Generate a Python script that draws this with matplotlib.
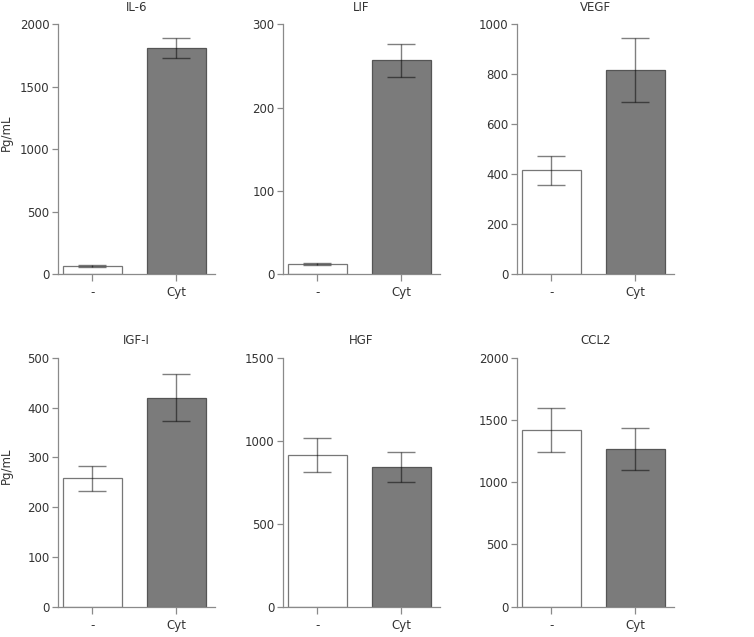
import numpy as np
import matplotlib
matplotlib.use('Agg')
import matplotlib.pyplot as plt

# values (pg/mL, mean and error)
cytokines = ['IL-6', 'LIF', 'VEGF', 'IGF-I', 'HGF', 'CCL2']
groups = ['-', 'Cyt']
ctrl_mean = [65, 12, 415, 258, 915, 1420]
ctrl_err = [5, 1, 58, 25, 105, 175]
cyt_mean = [1810, 257, 818, 420, 842, 1268]
cyt_err = [82, 20, 128, 47, 92, 170]
y_max = [2000, 300, 1000, 500, 1500, 2000]
y_step = [500, 100, 200, 100, 500, 500]

plt.rcParams['font.family'] = ['DejaVu Sans']
plt.rcParams['font.size'] = 8

fig = plt.figure(figsize=(7.54, 6.37), dpi=100)

col_left = [58, 283, 517]
row_box = [(24.5, 274), (358, 606.5)]
W, H = 754, 637

spine_col = '#8a8a8a'
text_col = '#333333'

for i, name in enumerate(cytokines):
    r, c = divmod(i, 3)
    top, bot = row_box[r]
    ax = fig.add_axes([col_left[c] / W, 1 - bot / H, 157 / W, (bot - top) / H])

    x = np.arange(len(groups))
    means = [ctrl_mean[i], cyt_mean[i]]
    errs = [ctrl_err[i], cyt_err[i]]
    ax.bar(x, means, width=0.7, color=['white', '#7b7b7b'],
           edgecolor=['#777777', '#555555'], linewidth=0.9, zorder=2)
    ax.errorbar(x, means, yerr=errs, fmt='none', ecolor=(0, 0, 0, 0.5),
                elinewidth=1, capsize=10, capthick=1, zorder=3)

    ax.set_xlim(-0.41, 1.46)
    ax.set_ylim(0, y_max[i])
    ax.set_yticks(np.arange(0, y_max[i] + 1, y_step[i]))
    ax.set_xticks(x)
    ax.set_xticklabels(groups)

    for s in ['top', 'right']:
        ax.spines[s].set_visible(False)
    for s in ['left', 'bottom']:
        ax.spines[s].set_color(spine_col)
        ax.spines[s].set_linewidth(0.9)
    ax.tick_params(axis='y', direction='out', length=4, width=0.9,
                   color=spine_col, labelcolor=text_col, labelsize=8.5, pad=2)
    ax.tick_params(axis='x', direction='out', length=5, width=0.9,
                   color=spine_col, labelcolor=text_col, labelsize=8.5, pad=4)
    ax.set_title(name, fontsize=8.5, color=text_col, pad=10)
    if c == 0:
        ax.set_ylabel('Pg/mL', fontsize=8.5, color=text_col)
        ax.yaxis.set_label_coords(-0.285, 0.565)

fig.savefig('out.png', dpi=100)
plt.close(fig)
